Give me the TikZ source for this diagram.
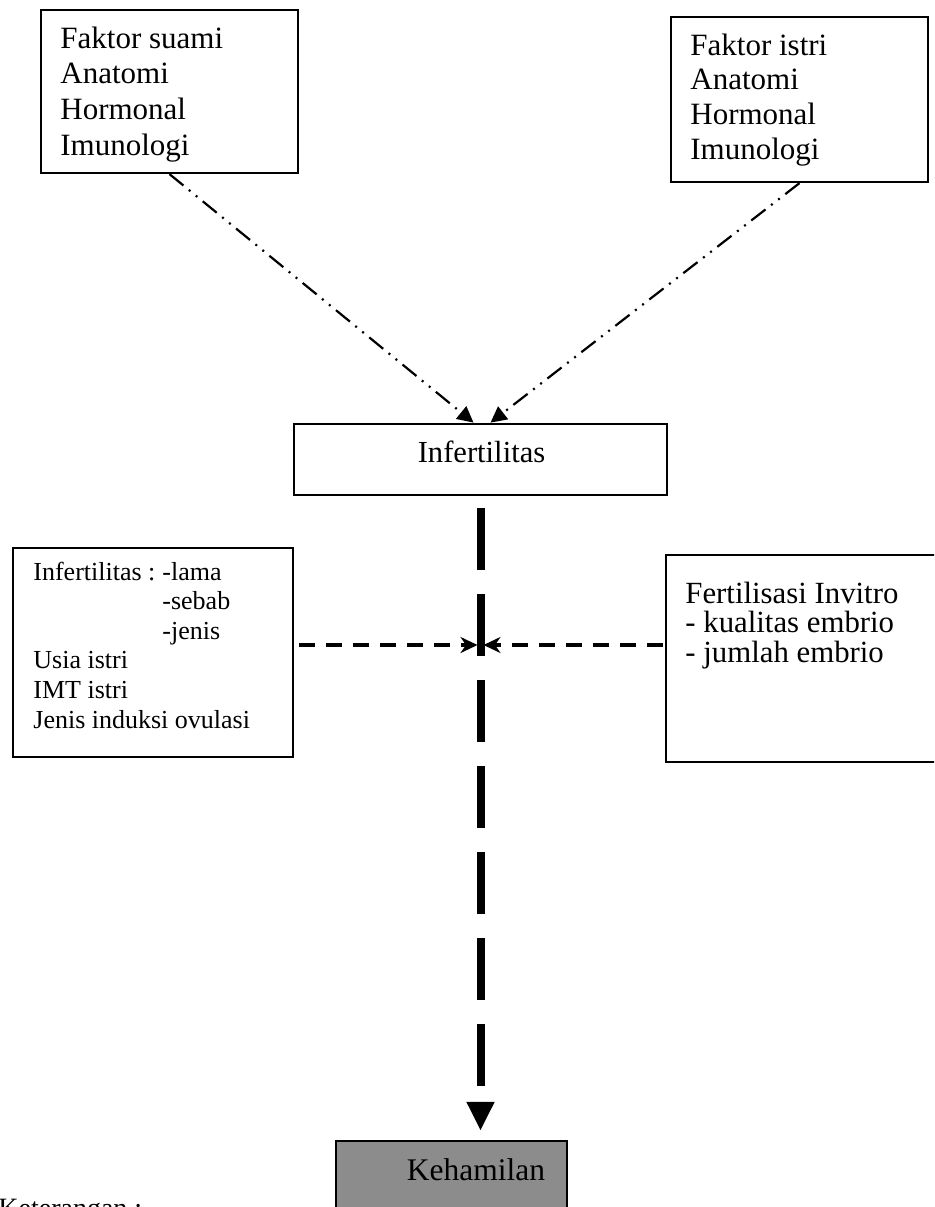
\documentclass[tikz,border=0pt]{standalone}
\usepackage{fontspec}
\setmainfont{Liberation Serif}
\usetikzlibrary{arrows.meta}
\begin{document}
\begin{tikzpicture}[x=0.5pt,y=-0.5pt,
  box/.style={draw, line width=1.1pt, inner sep=0pt, rectangle},
  txt/.style={inner sep=0pt, anchor=base west},
  ddot/.style={line width=1.1pt, dash pattern=on 9pt off 3.5pt on 1pt off 3.5pt on 1pt off 3.5pt, -{Triangle[length=8pt,width=8pt]}},
  hdash/.style={line width=1.6pt, dash pattern=on 8pt off 5.5pt, -{Stealth[length=8.5pt,width=8pt]}},
  vdash/.style={line width=4pt, dash pattern=on 31pt off 12pt, dash phase=37pt, -{Triangle[length=14.5pt,width=13pt]}},
]
\useasboundingbox (0,0) rectangle (934,1207);
\clip (0,0) rectangle (934,1207);

% boxes
\node[box, minimum width=128.5pt, minimum height=81.5pt] (b1) at (169.5,91.5) {};
\node[box, minimum width=128.5pt, minimum height=82.5pt] (b2) at (799.5,99.5) {};
\node[box, line width=1.4pt, minimum width=186.5pt, minimum height=35.5pt] (inf) at (480.5,459.5) {};
\node[box, minimum width=140pt, minimum height=104.5pt] (lb) at (153,652.5) {};
\node[box, minimum width=139.5pt, minimum height=103.5pt] (rb) at (805.5,658.5) {};
\node[box, fill=black!45, minimum width=115.5pt, minimum height=39.5pt] (kehbox) at (451.5,1180.5) {};

% texts
\node[txt, font=\fontsize{15.5pt}{17.85pt}\selectfont] (b1t) at (60,48)
  {\begin{tabular}[t]{@{}l@{}}Faktor suami\\Anatomi\\Hormonal\\Imunologi\end{tabular}};
\node[txt, font=\fontsize{15.5pt}{17.35pt}\selectfont] (b2t) at (690,55)
  {\begin{tabular}[t]{@{}l@{}}Faktor istri\\Anatomi\\Hormonal\\Imunologi\end{tabular}};
\node[inner sep=0pt, anchor=base, font=\fontsize{15.3pt}{18pt}\selectfont] (inft) at (481.5,462) {Infertilitas};
\node[txt, font=\fontsize{13pt}{14.8pt}\selectfont] (lbt) at (33,580)
  {\begin{tabular}[t]{@{}l@{}l@{}}\makebox[64.5pt][l]{Infertilitas :} & -lama\\ & -sebab\\ & -jenis\\
   \multicolumn{2}{@{}l@{}}{Usia istri}\\ \multicolumn{2}{@{}l@{}}{IMT istri}\\
   \multicolumn{2}{@{}l@{}}{Jenis induksi ovulasi}\end{tabular}};
\node[txt, font=\fontsize{15.4pt}{14.25pt}\selectfont] (rbt) at (685,603)
  {\begin{tabular}[t]{@{}l@{}}Fertilisasi Invitro\\- kualitas embrio\\- jumlah embrio\end{tabular}};
\node[inner sep=0pt, anchor=base, font=\fontsize{15.75pt}{18pt}\selectfont] (keht) at (476,1180) {Kehamilan};
\node[txt, font=\fontsize{14pt}{16pt}\selectfont] (ket) at (-2,1217) {Keterangan :};

% connectors
\draw[ddot] (b1.south) -- ([xshift=-3.5pt]inf.north);
\draw[ddot] (b2.south) -- ([xshift=5pt]inf.north);
\coordinate (cross) at (480.5,645);
\draw[hdash, shorten <=2.5pt, shorten >=1.5pt] (lb.east |- cross) -- (cross);
\draw[hdash, shorten <=1pt, shorten >=1.5pt] (rb.west |- cross) -- (cross);
\draw[vdash, shorten >=4.5pt] (inf.south) -- (inf.south |- kehbox.north);
\end{tikzpicture}
\end{document}
